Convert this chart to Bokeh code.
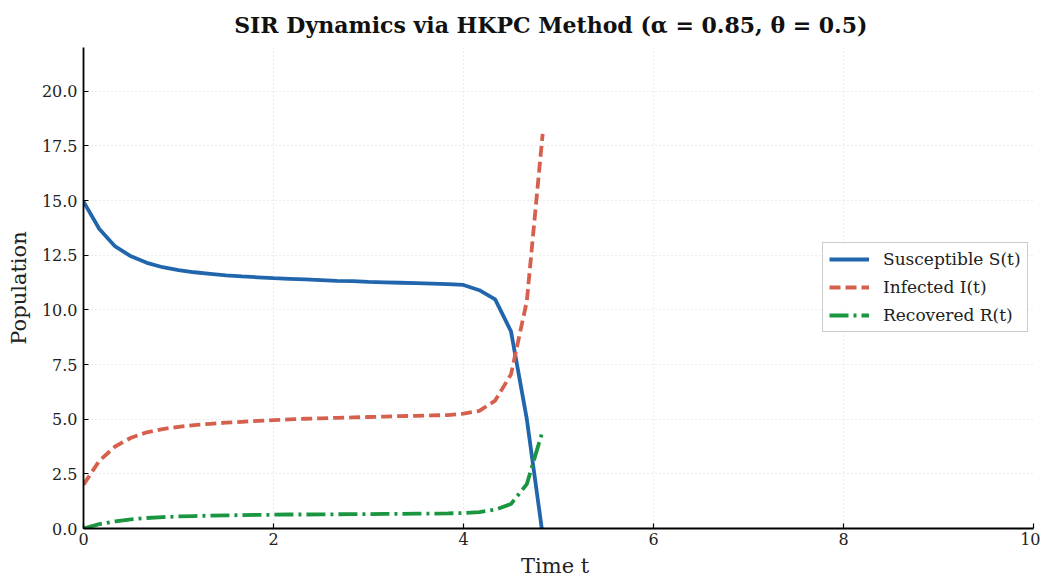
from bokeh.plotting import figure
from bokeh.models import Range1d, FixedTicker, PrintfTickFormatter, Legend, LegendItem
from bokeh.embed import file_html
from bokeh.resources import INLINE

t = [i / 6 for i in range(30)]
S = [14.95, 13.70, 12.90, 12.45, 12.15, 11.95, 11.82, 11.72, 11.65, 11.58,
     11.53, 11.49, 11.45, 11.42, 11.39, 11.36, 11.33, 11.31, 11.28, 11.26,
     11.24, 11.22, 11.20, 11.18, 11.14, 10.90, 10.48, 9.02, 5.00, -0.3]
I = [2.00, 3.10, 3.75, 4.15, 4.40, 4.55, 4.65, 4.73, 4.79, 4.84,
     4.88, 4.92, 4.96, 4.99, 5.02, 5.04, 5.06, 5.08, 5.10, 5.12,
     5.14, 5.15, 5.17, 5.19, 5.25, 5.38, 5.85, 7.05, 10.40, 18.05]
R = [0.00, 0.20, 0.33, 0.42, 0.48, 0.52, 0.55, 0.57, 0.59, 0.60,
     0.61, 0.62, 0.63, 0.64, 0.64, 0.65, 0.65, 0.66, 0.66, 0.67,
     0.67, 0.68, 0.68, 0.69, 0.71, 0.75, 0.86, 1.12, 2.03, 4.47]

x_ticks = [0, 2, 4, 6, 8, 10]
y_ticks = [0, 2.5, 5, 7.5, 10, 12.5, 15, 17.5, 20]

FONT = "DejaVu Serif"

p = figure(width=1040, height=580, output_backend="svg", toolbar_location=None,
           x_range=Range1d(0, 10), y_range=Range1d(0, 22),
           title="SIR Dynamics via HKPC Method  (α = 0.85,  θ = 0.5)",
           min_border_left=83, min_border_right=7, min_border_bottom=52, min_border_top=46)

p.title.align = "center"
p.title.text_font = FONT
p.title.text_font_size = "22px"
p.title.text_font_style = "bold"
p.title.text_color = "#111111"
p.title.offset = 0
p.title.standoff = 19

p.outline_line_color = None
p.background_fill_color = "white"

for ax in (p.xaxis[0], p.yaxis[0]):
    ax.axis_line_color = "black"
    ax.axis_line_width = 1.8
    ax.major_tick_in = 5
    ax.major_tick_out = 0
    ax.major_tick_line_color = "black"
    ax.major_tick_line_width = 1.2
    ax.minor_tick_line_color = None
    ax.major_label_text_font = FONT
    ax.major_label_text_font_size = "16px"
    ax.major_label_text_color = "#222222"
    ax.axis_label_text_font = FONT
    ax.axis_label_text_font_size = "21px"
    ax.axis_label_text_font_style = "normal"
    ax.axis_label_text_color = "#222222"

p.xaxis.ticker = FixedTicker(ticks=x_ticks)
p.yaxis.ticker = FixedTicker(ticks=y_ticks)
p.yaxis.formatter = PrintfTickFormatter(format="%.1f")
p.xaxis.axis_label = "Time  t"
p.yaxis.axis_label = "Population"
p.xaxis.major_label_standoff = 4
p.yaxis.major_label_standoff = 6
p.xaxis.axis_label_standoff = 6
p.yaxis.axis_label_standoff = 8

for g in (p.xgrid[0], p.ygrid[0]):
    g.grid_line_color = "#d9d9d9"
    g.grid_line_dash = "1 3"
    g.grid_line_width = 1
p.xgrid.ticker = FixedTicker(ticks=x_ticks)
p.ygrid.ticker = FixedTicker(ticks=y_ticks)

rs = p.line(t, S, line_color="#2166ac", line_width=3.8)
ri = p.line(t, I, line_color="#d6604d", line_width=3.8, line_dash="11 5")
rr = p.line(t, R, line_color="#1a9641", line_width=3.8, line_dash="19 5 3 5")

legend = Legend(items=[LegendItem(label="Susceptible S(t)", renderers=[rs]),
                       LegendItem(label="Infected I(t)", renderers=[ri]),
                       LegendItem(label="Recovered R(t)", renderers=[rr])],
                location=(739, 196))
legend.label_text_font = FONT
legend.label_text_font_size = "17px"
legend.label_text_color = "#222222"
legend.border_line_color = "#999999"
legend.border_line_width = 1.2
legend.background_fill_color = "white"
legend.background_fill_alpha = 0.9
legend.glyph_width = 40
legend.glyph_height = 20
legend.label_height = 20
legend.spacing = 8
legend.padding = 6
legend.margin = 0
legend.label_standoff = 14
p.add_layout(legend, "center")

open("out.html", "w").write(file_html(p, INLINE))
